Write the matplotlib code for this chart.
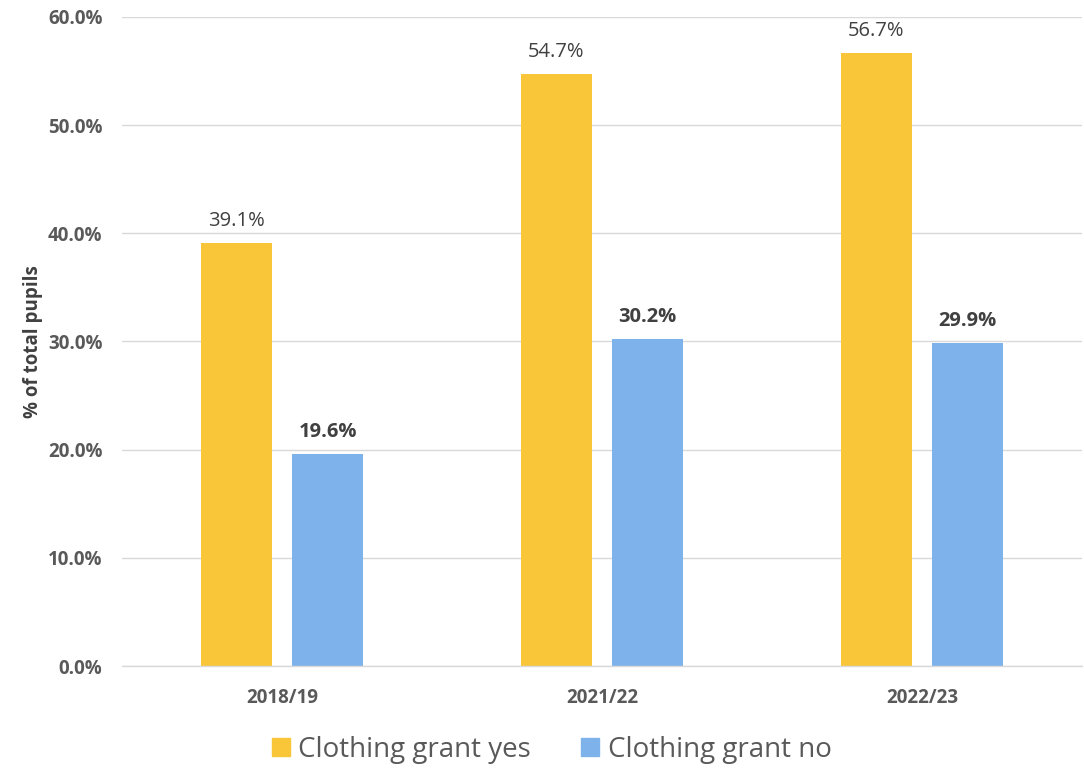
import matplotlib
matplotlib.use("Agg")
import matplotlib.pyplot as plt
import numpy as np
from matplotlib.patches import Patch

categories = ["2018/19", "2021/22", "2022/23"]
yes_values = [39.1, 54.7, 56.7]
no_values = [19.6, 30.2, 29.9]
series_names = ["Clothing grant yes", "Clothing grant no"]

plt.rcParams['font.family'] = ['Open Sans', 'DejaVu Sans']

fig = plt.figure(figsize=(10.84, 7.68), dpi=100)
ax = fig.add_axes([0.1125, 0.1328, 0.8855, 0.8452])

x = np.arange(len(categories))
w = 0.222
off = 0.143
c_yes = "#F9C63A"
c_no = "#7DB3EA"
ax.bar(x - off, yes_values, w, color=c_yes, zorder=3)
ax.bar(x + off, no_values, w, color=c_no, zorder=3)

for xi, v in zip(x, yes_values):
    ax.text(xi - off, v + 1.1, f"{v:.1f}%", ha="center", va="bottom",
            fontsize=14.5, color="#404040")
for xi, v in zip(x, no_values):
    ax.text(xi + off, v + 1.1, f"{v:.1f}%", ha="center", va="bottom",
            fontsize=14.5, color="#404040", fontweight="bold")

ax.set_xlim(-0.5, 2.5)
ax.set_ylim(0, 60)
ax.set_yticks(np.arange(0, 61, 10))
ax.set_yticklabels([f"{t:.1f}%" for t in np.arange(0, 61, 10)])
ax.set_xticks(x)
ax.set_xticklabels(categories)
ax.grid(axis="y", color="#D9D9D9", linewidth=1, zorder=0)
for s in ["top", "right", "left"]:
    ax.spines[s].set_visible(False)
ax.spines["bottom"].set_color("#D9D9D9")
ax.spines["bottom"].set_linewidth(1)
ax.spines["bottom"].set_zorder(4)
ax.tick_params(axis="both", length=0, labelcolor="#595959", labelsize=13.5)
ax.tick_params(axis="x", pad=16)
ax.tick_params(axis="y", pad=14)
for lab in ax.get_xticklabels() + ax.get_yticklabels():
    lab.set_fontweight("bold")

ax.set_ylabel("% of total pupils", fontsize=13.5, fontweight="bold", color="#404040")
ax.yaxis.set_label_coords(-0.082, 0.5)

handles = [Patch(color=c_yes), Patch(color=c_no)]
fig.legend(handles, series_names, loc="center", bbox_to_anchor=(0.509, 0.024),
           ncol=2, frameon=False, fontsize=20, labelcolor="#595959",
           handlelength=0.65, handleheight=0.65, handletextpad=0.3, columnspacing=1.8)

fig.savefig("out.png", dpi=100)
